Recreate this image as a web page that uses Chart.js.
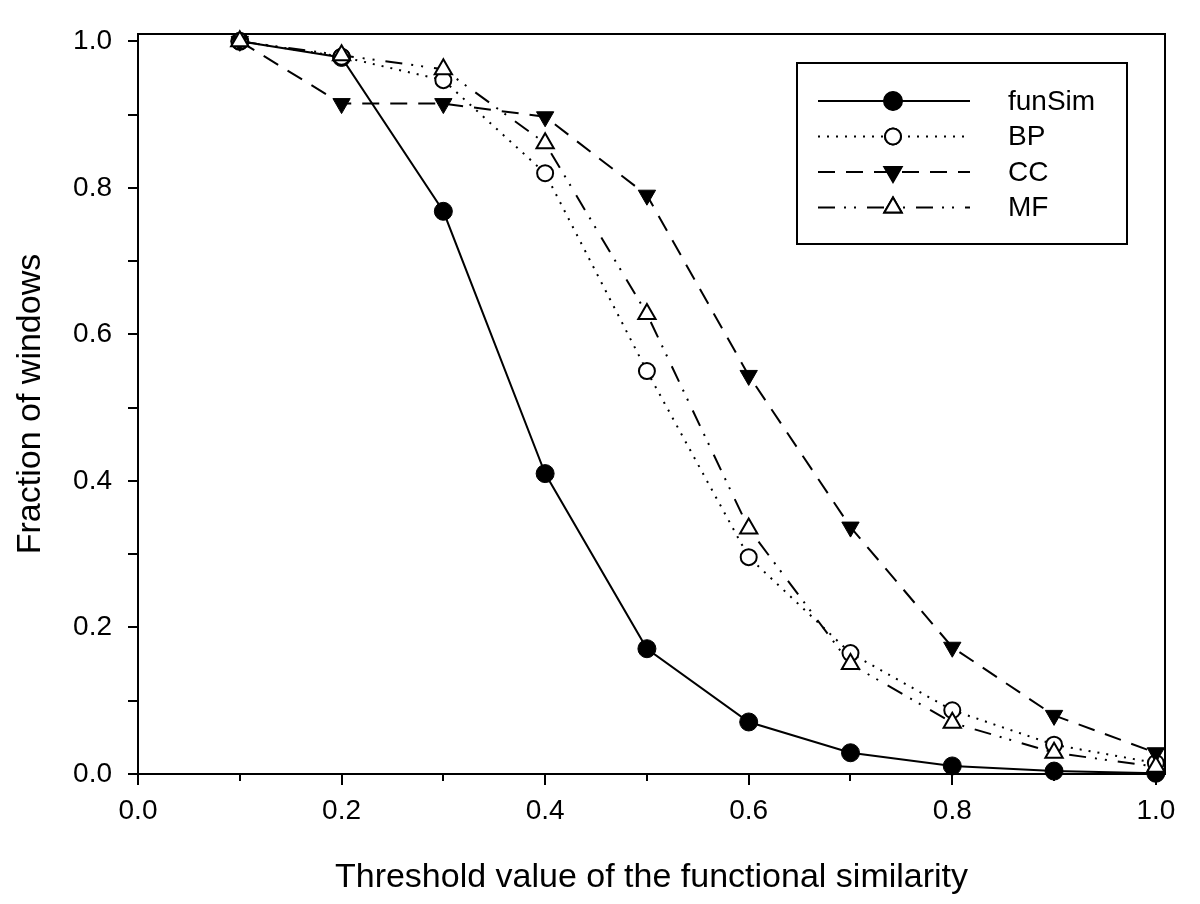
<!DOCTYPE html>
<html>
<head>
<meta charset="utf-8">
<script src="https://cdn.jsdelivr.net/npm/chart.js@4.4.0/dist/chart.umd.min.js"></script>
<style>
  html, body { margin: 0; padding: 0; background: #fff; }
  canvas { display: block; }
</style>
</head>
<body>
<canvas id="simChart" width="1200" height="904"></canvas>
<script>
// data
var thresholds = [0.1, 0.2, 0.3, 0.4, 0.5, 0.6, 0.7, 0.8, 0.9, 1.0];
var funSim = [1.0, 0.978, 0.768, 0.41, 0.171, 0.071, 0.029, 0.011, 0.004, 0.001];
var bp     = [1.0, 0.979, 0.947, 0.820, 0.550, 0.296, 0.165, 0.087, 0.040, 0.015];
var cc     = [1.0, 0.915, 0.915, 0.897, 0.790, 0.544, 0.337, 0.173, 0.080, 0.029];
var mf     = [1.0, 0.981, 0.962, 0.861, 0.628, 0.335, 0.150, 0.070, 0.029, 0.010];
var xTicks = [0.0, 0.2, 0.4, 0.6, 0.8, 1.0];
var yTicks = [0.0, 0.2, 0.4, 0.6, 0.8, 1.0];

var FONT = '"Liberation Sans", Arial, Helvetica, sans-serif';

function pts(values) {
    return thresholds.map(function(t, i) { return { x: t, y: values[i] }; });
}

// frame box + tick marks (every 0.1, minor x ticks shorter)
var framePlugin = {
    id: 'frame',
    beforeDatasetsDraw: function(chart) {
        var ctx = chart.ctx, a = chart.chartArea;
        var xs = chart.scales.x, ys = chart.scales.y;
        ctx.save();
        ctx.strokeStyle = '#000';
        ctx.lineWidth = 2;
        ctx.strokeRect(a.left, a.top, a.right - a.left, a.bottom - a.top);
        ctx.beginPath();
        for (var i = 0; i <= 10; i++) {
            var px = Math.round(xs.getPixelForValue(i / 10));
            ctx.moveTo(px, a.bottom);
            ctx.lineTo(px, a.bottom + (i % 2 === 0 ? 11 : 7));
            var py = Math.round(ys.getPixelForValue(i / 10));
            ctx.moveTo(a.left, py);
            ctx.lineTo(a.left - 10, py);
        }
        ctx.stroke();
        ctx.restore();
    }
};

// legend box like the original (line + marker + label)
var legendPlugin = {
    id: 'boxLegend',
    afterDraw: function(chart) {
        var ctx = chart.ctx;
        ctx.save();
        ctx.strokeStyle = '#000';
        ctx.lineWidth = 2;
        ctx.strokeRect(797, 63, 330, 181);
        chart.data.datasets.forEach(function(ds, i) {
            var y = 101 + i * 35.5;
            ctx.beginPath();
            ctx.setLineDash(ds.borderDash || []);
            ctx.lineWidth = ds.borderWidth;
            ctx.moveTo(818, y);
            ctx.lineTo(970, y);
            ctx.stroke();
            ctx.setLineDash([]);
            Chart.helpers.drawPoint(ctx, {
                pointStyle: ds.pointStyle,
                rotation: ds.pointRotation || 0,
                radius: ds.pointRadius,
                borderWidth: ds.pointBorderWidth
            }, 893, y);
            ctx.fillStyle = ds.pointBackgroundColor;
            ctx.strokeStyle = '#000';
            ctx.lineWidth = ds.pointBorderWidth;
            ctx.fill();
            ctx.stroke();
            ctx.fillStyle = '#000';
            ctx.font = '28px ' + FONT;
            ctx.textBaseline = 'middle';
            ctx.fillText(ds.label, 1008, y + 1);
        });
        ctx.restore();
    }
};

var ctx = document.getElementById('simChart').getContext('2d');
var simChart = new Chart(ctx, {
    type: 'line',
    data: {
        datasets: [{
            label: 'funSim',
            data: pts(funSim),
            borderColor: '#000',
            borderWidth: 2,
            pointStyle: 'circle',
            pointRadius: 9,
            pointBackgroundColor: '#000',
            pointBorderColor: '#000',
            pointBorderWidth: 1,
            order: 4
        }, {
            label: 'BP',
            data: pts(bp),
            borderColor: '#000',
            borderWidth: 2,
            borderDash: [2, 7],
            pointStyle: 'circle',
            pointRadius: 8,
            pointBackgroundColor: '#fff',
            pointBorderColor: '#000',
            pointBorderWidth: 2,
            order: 3
        }, {
            label: 'CC',
            data: pts(cc),
            borderColor: '#000',
            borderWidth: 2,
            borderDash: [17, 11],
            pointStyle: 'triangle',
            pointRotation: 180,
            pointRadius: 10,
            pointBackgroundColor: '#000',
            pointBorderColor: '#000',
            pointBorderWidth: 1,
            order: 2
        }, {
            label: 'MF',
            data: pts(mf),
            borderColor: '#000',
            borderWidth: 2,
            borderDash: [17, 9, 2, 8, 2, 11],
            pointStyle: 'triangle',
            pointRadius: 10,
            pointBackgroundColor: '#fff',
            pointBorderColor: '#000',
            pointBorderWidth: 2,
            order: 1
        }]
    },
    options: {
        responsive: false,
        animation: false,
        devicePixelRatio: 1,
        clip: false,
        elements: { line: { tension: 0, fill: false } },
        layout: { padding: { top: 34, right: 35, left: 0, bottom: 0 } },
        plugins: {
            legend: { display: false },
            tooltip: { enabled: false }
        },
        scales: {
            x: {
                type: 'linear',
                min: 0,
                max: 1.009,
                afterFit: function(s) { s.height = 130; s.paddingLeft = 0; s.paddingRight = 0; },
                afterBuildTicks: function(s) { s.ticks = xTicks.map(function(v) { return { value: v }; }); },
                grid: { display: false, drawTicks: false },
                border: { display: false },
                ticks: {
                    color: '#000',
                    padding: 20,
                    font: { family: FONT, size: 28 },
                    callback: function(v) { return v.toFixed(1); }
                },
                title: {
                    display: true,
                    text: 'Threshold value of the functional similarity',
                    color: '#000',
                    font: { family: FONT, size: 34, lineHeight: 1.2 },
                    padding: { bottom: 6 }
                }
            },
            y: {
                type: 'linear',
                min: 0,
                max: 1.01,
                afterFit: function(s) { s.width = 138; s.paddingTop = 0; s.paddingBottom = 0; },
                afterBuildTicks: function(s) { s.ticks = yTicks.map(function(v) { return { value: v }; }); },
                grid: { display: false, drawTicks: false },
                border: { display: false },
                ticks: {
                    color: '#000',
                    padding: 26,
                    font: { family: FONT, size: 28 },
                    callback: function(v) { return v.toFixed(1); }
                },
                title: {
                    display: true,
                    text: 'Fraction of windows',
                    color: '#000',
                    font: { family: FONT, size: 34, lineHeight: 1.2 },
                    padding: { top: 10 }
                }
            }
        }
    },
    plugins: [framePlugin, legendPlugin]
});
</script>
</body>
</html>
